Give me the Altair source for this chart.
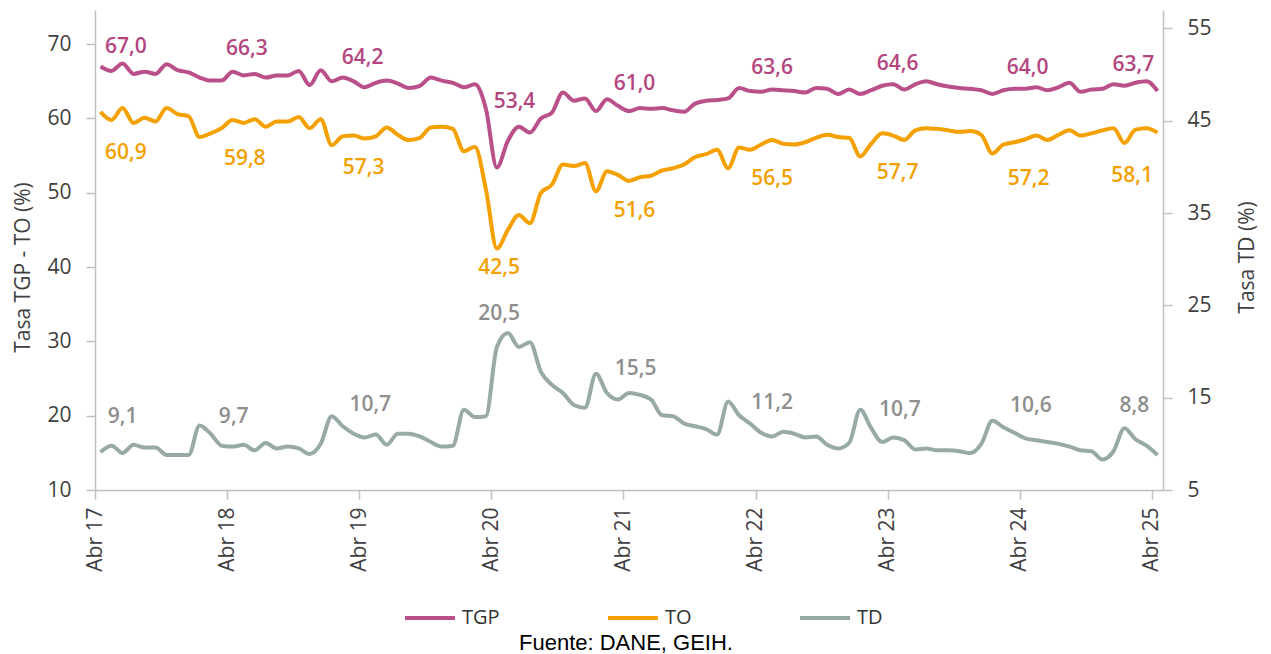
import altair as alt
import pandas as pd

# ---------------- data (monthly, Abr 2017 .. Abr 2025) ----------------
tgp = [67.0, 66.4, 67.4, 66.0, 66.3, 66.0, 67.3, 66.5, 66.2, 65.5, 65.1, 65.1,
       66.3, 65.8, 66.0, 65.5, 65.8, 65.8, 66.4, 64.5, 66.5, 65.0, 65.5, 65.0,
       64.2, 64.8, 65.1, 64.7, 64.1, 64.4, 65.5, 65.1, 64.8, 64.2, 64.6, 61.3,
       53.4, 57.0, 58.9, 58.1, 60.0, 60.8, 63.5, 62.4, 62.7, 61.0, 62.6, 61.7,
       61.0, 61.4, 61.3, 61.4, 61.1, 60.9, 62.0, 62.4, 62.5, 62.7, 64.1, 63.7,
       63.6, 63.9, 63.8, 63.7, 63.5, 64.1, 64.0, 63.3, 63.9, 63.3, 63.8, 64.4,
       64.6, 63.9, 64.6, 65.0, 64.6, 64.3, 64.1, 64.0, 63.8, 63.3, 63.8, 64.0,
       64.0, 64.2, 63.8, 64.2, 64.8, 63.6, 63.9, 64.0, 64.6, 64.4, 64.8, 65.0,
       63.7]
to = [60.9, 59.8, 61.4, 59.4, 60.1, 59.6, 61.4, 60.6, 60.3, 57.5, 58.0, 58.7,
      59.8, 59.4, 59.9, 58.9, 59.6, 59.6, 60.2, 58.7, 59.9, 56.4, 57.6, 57.7,
      57.3, 57.6, 58.8, 57.8, 57.1, 57.4, 58.8, 58.9, 58.6, 55.6, 56.2, 50.5,
      42.5, 45.0, 47.0, 45.9, 50.0, 51.1, 53.8, 53.6, 54.0, 50.2, 52.9, 52.4,
      51.6, 52.1, 52.3, 53.0, 53.3, 53.8, 54.8, 55.2, 55.8, 53.3, 56.1, 55.8,
      56.5, 57.1, 56.6, 56.5, 56.8, 57.4, 57.8, 57.5, 57.4, 54.9, 56.6, 58.0,
      57.7, 57.1, 58.4, 58.7, 58.6, 58.4, 58.2, 58.3, 57.8, 55.3, 56.5, 56.8,
      57.2, 57.7, 57.1, 57.8, 58.4, 57.7, 58.0, 58.4, 58.7, 56.7, 58.5, 58.7,
      58.1]
td = [9.1, 9.8, 9.0, 9.9, 9.6, 9.6, 8.8, 8.8, 8.8, 12.0, 11.1, 9.8,
      9.7, 9.9, 9.3, 10.1, 9.5, 9.7, 9.5, 8.9, 10.0, 13.0, 11.9, 11.1,
      10.7, 11.0, 9.9, 11.1, 11.1, 10.8, 10.2, 9.7, 9.8, 13.7, 12.9, 13.0,
      20.5, 22.0, 20.5, 21.0, 17.8, 16.4, 15.5, 14.2, 13.9, 17.6, 15.5, 14.8,
      15.5, 15.3, 14.8, 13.1, 13.0, 12.2, 11.9, 11.6, 11.0, 14.6, 13.1, 12.2,
      11.2, 10.8, 11.3, 11.1, 10.7, 10.8, 9.9, 9.5, 10.1, 13.7, 11.7, 10.2,
      10.7, 10.4, 9.4, 9.5, 9.3, 9.3, 9.2, 9.0, 10.0, 12.5, 11.8, 11.2,
      10.6, 10.4, 10.2, 10.0, 9.7, 9.3, 9.2, 8.3, 9.2, 11.7, 10.5, 9.8,
      8.8]

x_tick_labels = ["Abr 17", "Abr 18", "Abr 19", "Abr 20", "Abr 21",
                 "Abr 22", "Abr 23", "Abr 24", "Abr 25"]
left_ticks = [10, 20, 30, 40, 50, 60, 70]
right_ticks = [5, 15, 25, 35, 45, 55]
series = ["TGP", "TO", "TD"]
source_text = "Fuente: DANE, GEIH."

# ---------------- styling ----------------
line_colors = ["#B9508A", "#F4A100", "#97AAA7"]
label_colors = ["#B3467F", "#F2A000", "#8E8E8E"]
FONT = "Open Sans"

# annotation anchors (months, axis units) for the April value labels
lab_tgp_x = [2.3, 13.3, 23.8, 37.6, 48.5, 61.0, 72.4, 84.2, 93.8]
lab_tgp_y = [69.6, 69.3, 68.1, 62.2, 64.6, 66.8, 67.3, 66.8, 67.2]
lab_to_x = [2.3, 13.1, 23.9, 36.2, 48.5, 61.0, 72.4, 84.3, 93.7]
lab_to_y = [55.3, 54.5, 53.3, 39.9, 47.5, 51.9, 52.7, 51.9, 52.3]
lab_td_x = [2.0, 12.1, 24.5, 36.2, 48.6, 61.0, 72.6, 84.5, 93.9]
lab_td_y = [12.9, 12.9, 14.2, 24.1, 18.1, 14.4, 13.7, 14.1, 14.1]

n = len(tgp)
months = list(range(n))
aprils = list(range(0, n, 12))

def fmt(v):
    return f"{v:.1f}".replace(".", ",")

# axis domains: left (TGP, TO) and right (TD)
L0, L1 = 10.0, 74.6
R0, R1 = 5.0, 57.0
to_left = f"{L0} + ({{v}} - {R0}) * {(L1 - L0)} / {(R1 - R0)}"

left_df = pd.DataFrame({
    "m": months * 2,
    "serie": ["TGP"] * n + ["TO"] * n,
    "valor": tgp + to,
})
right_df = pd.DataFrame({"m": months, "serie": ["TD"] * n, "td": td})

lab_tgp = pd.DataFrame({"lx": lab_tgp_x, "ly": lab_tgp_y, "t": [fmt(tgp[i]) for i in aprils]})
lab_to = pd.DataFrame({"lx": lab_to_x, "ly": lab_to_y, "t": [fmt(to[i]) for i in aprils]})
lab_td = pd.DataFrame({"lx": lab_td_x, "ry": lab_td_y, "t": [fmt(td[i]) for i in aprils]})

x_dom = [-0.5, n - 0.5]
tick_vals = [i - 0.5 for i in range(0, n, 12)]
label_expr = ""
for k, lab in enumerate(x_tick_labels[:-1]):
    label_expr += f"datum.value < {tick_vals[k] + 6} ? '{lab}' : "
label_expr += f"'{x_tick_labels[-1]}'"

right_tick_pos = [L0 + (v - R0) * (L1 - L0) / (R1 - R0) for v in right_ticks]
right_label_expr = f"format({R0} + (datum.value - {L0}) * {(R1 - R0)} / {(L1 - L0)}, '.0f')"

x_scale = alt.Scale(domain=x_dom, nice=False, zero=False)
y_scale = alt.Scale(domain=[L0, L1], nice=False, zero=False)

color_enc = alt.Color("serie:N",
                      scale=alt.Scale(domain=series, range=line_colors),
                      legend=alt.Legend(orient="none", legendX=308, legendY=581,
                                        direction="horizontal", title=None,
                                        symbolType="stroke", symbolSize=2500,
                                        symbolStrokeWidth=4, labelFont=FONT,
                                        labelFontSize=20, labelColor="#333333",
                                        labelOffset=5, columnPadding=100,
                                        padding=0))

left_lines = alt.Chart(left_df).mark_line(strokeWidth=4, interpolate="monotone").encode(
    x=alt.X("m:Q", scale=x_scale,
            axis=alt.Axis(values=tick_vals, labelExpr=label_expr, labelAngle=270,
                          labelPadding=8, labelFlush=False, title=None, orient="bottom")),
    y=alt.Y("valor:Q", scale=y_scale,
            axis=alt.Axis(values=left_ticks, orient="left", title="Tasa TGP - TO (%)",
                          labelPadding=15, titlePadding=13, titleY=257)),
    color=color_enc,
    detail="serie:N",
)

right_line = alt.Chart(right_df).transform_calculate(
    valor=to_left.format(v="datum.td")
).mark_line(strokeWidth=4, interpolate="monotone").encode(
    x=alt.X("m:Q", scale=x_scale, axis=None),
    y=alt.Y("valor:Q", scale=y_scale,
            axis=alt.Axis(values=right_tick_pos, labelExpr=right_label_expr,
                          orient="right", title="Tasa TD (%)", titleAngle=270,
                          labelPadding=15, titlePadding=46, titleY=247)),
    color=color_enc,
)

def label_layer(chart, color):
    return chart.mark_text(font=FONT, fontSize=21, fontWeight=600,
                           color=color, align="center", baseline="middle").encode(
        x=alt.X("lx:Q", scale=x_scale, axis=None),
        y=alt.Y("ly:Q", scale=y_scale, axis=None),
        text="t:N",
    )

tgp_labels = label_layer(alt.Chart(lab_tgp), label_colors[0])
to_labels = label_layer(alt.Chart(lab_to), label_colors[1])
td_labels = label_layer(alt.Chart(lab_td).transform_calculate(
    ly=to_left.format(v="datum.ry")), label_colors[2])

source = alt.Chart(pd.DataFrame({"t": [source_text]})).mark_text(
    font="Liberation Sans", fontSize=22, color="#000000",
    align="center", baseline="middle").encode(
    text="t:N", x=alt.value(531), y=alt.value(633))

chart = alt.layer(left_lines, right_line, tgp_labels, to_labels, td_labels, source).resolve_axis(
    x="independent", y="independent"
).properties(
    width=1068, height=480,
    autosize=alt.AutoSizeParams(type="none"),
    padding={"left": 87, "top": 2, "right": 100, "bottom": 164},
).configure(background="white", view=alt.ViewConfig(stroke=None)).configure_axis(
    grid=False, domainColor="#BFBFBF", domainWidth=1.5, tickColor="#BFBFBF",
    tickWidth=1.5, tickSize=9, labelFont=FONT, labelFontSize=21,
    labelColor="#404040", titleFont=FONT, titleFontSize=21,
    titleFontWeight="normal", titleColor="#404040",
)

chart.save("out.html", embed_options={"renderer": "svg", "actions": False})
